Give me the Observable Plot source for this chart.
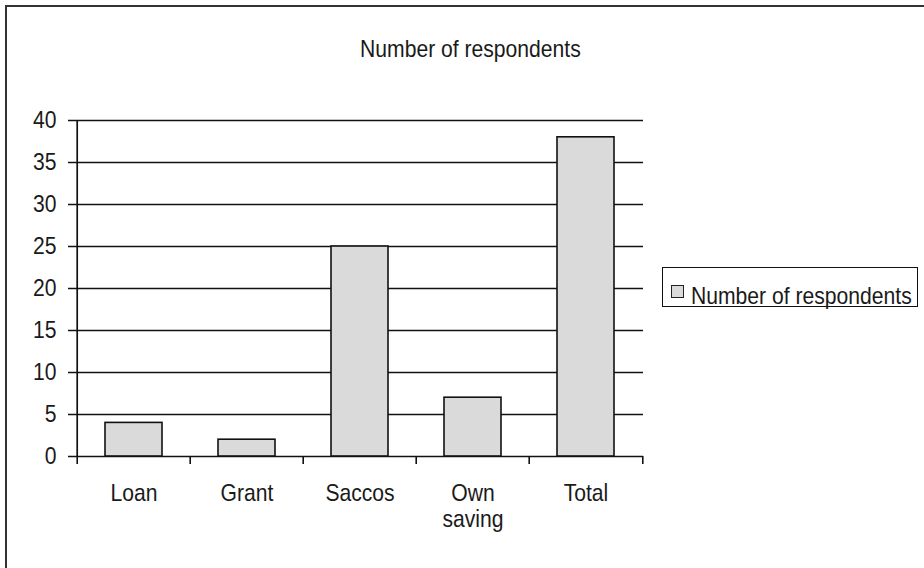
<!DOCTYPE html>
<html>
<head>
<meta charset="utf-8">
<script src="https://cdn.jsdelivr.net/npm/d3@7"></script>
<script src="https://cdn.jsdelivr.net/npm/@observablehq/plot@0.6"></script>
<style>
  html, body { margin: 0; padding: 0; background: #fff; overflow: hidden; }
  #wrap { position: relative; width: 924px; height: 568px; overflow: hidden; background: #fff;
    font-family: "Liberation Sans", Arial, sans-serif; color: #1a1a1a; }
  #border { position: absolute; left: 5px; top: 5px; width: 1000px; height: 1000px; border: 2px solid #333; }
  #title { position: absolute; left: 0; width: 940px; top: 37px; text-align: center; font-size: 24px; line-height: 24px; }
  #title span { display: inline-block; transform: scaleX(0.88); transform-origin: center; white-space: nowrap; }
  #chart { position: absolute; left: 0; top: 0; }
  #legend { position: absolute; left: 662px; top: 267px; width: 256px; height: 40px; border: 1.6px solid #111; box-sizing: border-box; }
  #legend .sw { position: absolute; left: 8px; top: 17px; width: 11px; height: 11px; background: #dadada; border: 1.5px solid #222; }
  #legend .lt { position: absolute; left: 28px; top: 16px; font-size: 24px; line-height: 24px; white-space: nowrap; transform: scaleX(0.88); transform-origin: left center; }
</style>
</head>
<body>
<div id="wrap">
  <div id="border"></div>
  <div id="title"><span></span></div>
  <div id="chart"></div>
  <div id="legend"><div class="sw"></div><div class="lt"></div></div>
</div>
<script>
const seriesName = "Number of respondents";
const categories = ["Loan", "Grant", "Saccos", "Own saving", "Total"];
const categoryLabels = ["Loan", "Grant", "Saccos", "Own\nsaving", "Total"];
const values = [4, 2, 25, 7, 38];
const yTicks = [0, 5, 10, 15, 20, 25, 30, 35, 40];

document.querySelector("#title span").textContent = seriesName;
document.querySelector("#legend .lt").textContent = seriesName;

const data = categories.map((c, i) => ({category: c, label: categoryLabels[i], value: values[i]}));

const W = 924, H = 568;
const mL = 75, mR = 281, mT = 120, mB = 112;
const step = (W - mL - mR) / categories.length;
const yMax = d3.max(yTicks);
const ink = "#111";
const narrow = 0.88;

const chart = Plot.plot({
  width: W,
  height: H,
  marginLeft: mL,
  marginRight: mR,
  marginTop: mT,
  marginBottom: mB,
  style: {fontFamily: "'Liberation Sans', Arial, sans-serif", fontSize: "24px", color: "#1a1a1a", background: "transparent", overflow: "visible"},
  x: {domain: categories, paddingInner: 0.5, paddingOuter: 0.25, axis: null},
  y: {domain: [0, yMax], ticks: yTicks, tickSize: 7, tickPadding: 12, label: null, tickFormat: d => String(d)},
  marks: [
    Plot.ruleY(yTicks, {y: d => d, stroke: ink, strokeWidth: 1.7, insetLeft: -7}),
    Plot.barY(data, {x: "category", y: "value", fill: "#dadada", stroke: ink, strokeWidth: 1.6}),
    Plot.ruleX(categories, {x: d => d, dx: -step / 2, y1: 0, y2: 0, insetBottom: -8, stroke: ink, strokeWidth: 1.6}),
    Plot.ruleX([categories[categories.length - 1]], {x: d => d, dx: step / 2, y1: 0, y2: 0, insetBottom: -8, stroke: ink, strokeWidth: 1.6}),
    Plot.ruleX([categories[0]], {x: d => d, dx: -step / 2, y1: 0, y2: yMax, stroke: ink, strokeWidth: 1.7}),
    Plot.text(data, {x: "category", text: "label", frameAnchor: "bottom", dy: 26, lineAnchor: "top", lineHeight: 1.08, fill: "#1a1a1a", fontSize: 24})
  ]
});
document.getElementById("chart").appendChild(chart);

// condense all chart texts horizontally around their anchor point (narrow typeface look)
chart.querySelectorAll("text").forEach(t => {
  const ax = parseFloat(t.getAttribute("x")) || 0;
  const prev = t.getAttribute("transform") || "";
  t.setAttribute("transform", `${prev} translate(${ax},0) scale(${narrow},1) translate(${-ax},0)`.trim());
});
</script>
</body>
</html>
